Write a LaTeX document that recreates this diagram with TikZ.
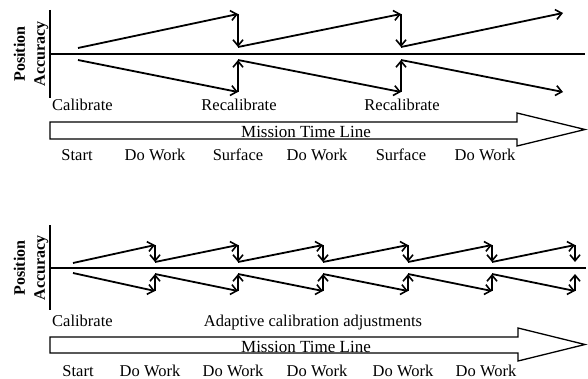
\documentclass[tikz,border=0pt]{standalone}
\usepackage{fontspec}
\setmainfont{Liberation Serif}
\usetikzlibrary{arrows.meta}
\tikzset{
  axisline/.style={line width=1.6pt},
  trend/.style={line width=1.8pt,-{Straight Barb[length=6pt,width=10pt,line width=1.6pt]}},
  corr/.style={line width=1.8pt,-{Straight Barb[length=6pt,width=10pt,line width=1.6pt]}},
  timeline/.style={line width=1.3pt,fill=white},
  lbl/.style={font=\fontsize{16.5}{19}\selectfont,inner sep=0pt,anchor=base},
  ylbl/.style={font=\bfseries\fontsize{16}{20}\selectfont,inner sep=0pt,rotate=90,align=center},
}
\begin{document}
\begin{tikzpicture}[x=1pt,y=-1pt]
\useasboundingbox (0,0) rectangle (588,379);
% ================= TOP DIAGRAM =================
\coordinate (tvt) at (50,10);
\coordinate (tvb) at (50,98);
\coordinate (thl) at (50,54);
\coordinate (thr) at (585,54);
\draw[axisline] (tvt) -- (tvb);
\draw[axisline] (thl) -- (thr);
\node[ylbl] (tyl) at (31,54) {Position\\Accuracy};
% upper
\coordinate (tu0) at (78,48);
\coordinate (tu1) at (238,14);
\coordinate (tu1b) at (238,47);
\coordinate (tu2) at (401,14);
\coordinate (tu2b) at (401,47);
\coordinate (tu3) at (563,13);
\draw[trend] (tu0) -- (tu1);
\draw[corr] (tu1) -- (tu1b);
\draw[trend] (tu1b) -- (tu2);
\draw[corr] (tu2) -- (tu2b);
\draw[trend] (tu2b) -- (tu3);
% lower
\coordinate (tl0) at (78,60);
\coordinate (tl1) at (238,92);
\coordinate (tl1b) at (238,60);
\coordinate (tl2) at (401,92);
\coordinate (tl2b) at (401,60);
\coordinate (tl3) at (563,92);
\draw[trend] (tl0) -- (tl1);
\draw[corr] (tl1) -- (tl1b);
\draw[trend] (tl1b) -- (tl2);
\draw[corr] (tl2) -- (tl2b);
\draw[trend] (tl2b) -- (tl3);
% labels
\node[lbl,anchor=base west] (tcal) at (52,111) {Calibrate};
\node[lbl] (trc1) at (239,111) {Recalibrate};
\node[lbl] (trc2) at (402,111) {Recalibrate};
% timeline
\draw[timeline] (50,122) -- (517,122) -- (517,113) -- (585,129.5) -- (517,146) -- (517,139) -- (50,139) -- cycle;
\node[lbl,font=\fontsize{17}{20}\selectfont] (tmtl) at (306,137.5) {Mission Time Line};
\node[lbl] (ts1) at (77,161) {Start};
\node[lbl] (ts2) at (155,161) {Do Work};
\node[lbl] (ts3) at (238,161) {Surface};
\node[lbl] (ts4) at (317,161) {Do Work};
\node[lbl] (ts5) at (401,161) {Surface};
\node[lbl] (ts6) at (485,161) {Do Work};
% ================= BOTTOM DIAGRAM =================
\coordinate (bvt) at (50,225);
\coordinate (bvb) at (50,310);
\coordinate (bhl) at (50,268);
\coordinate (bhr) at (586,268);
\draw[axisline] (bvt) -- (bvb);
\draw[axisline] (bhl) -- (bhr);
\node[ylbl] (byl) at (31,268) {Position\\Accuracy};
\coordinate (bq0) at (73,263);
\coordinate (bs0) at (73,273);
\foreach \x [count=\i] in {155,238,323,408,492,575} {
  \coordinate (bp\i) at (\x,245);
  \coordinate (bq\i) at (\x,262);
  \coordinate (br\i) at (\x,291);
  \coordinate (bs\i) at (\x,274);
}
\foreach \i [evaluate=\i as \j using int(\i-1)] in {1,...,6} {
  \draw[trend] (bq\j) -- (bp\i);
  \draw[corr] (bp\i) -- (bq\i);
  \draw[trend] (bs\j) -- (br\i);
  \draw[corr] (br\i) -- (bs\i);
}
\node[lbl,anchor=base west] (bcal) at (52,326) {Calibrate};
\node[lbl] (badj) at (313,326) {Adaptive calibration adjustments};
\draw[timeline] (50,337) -- (518,337) -- (518,328) -- (585,344.5) -- (518,361) -- (518,353) -- (50,353) -- cycle;
\node[lbl,font=\fontsize{17}{20}\selectfont] (bmtl) at (306,352) {Mission Time Line};
\node[lbl] (bs1) at (78,376) {Start};
\node[lbl] (bs2) at (150,376) {Do Work};
\node[lbl] (bs3) at (233,376) {Do Work};
\node[lbl] (bs4) at (317,376) {Do Work};
\node[lbl] (bs5) at (403,376) {Do Work};
\node[lbl] (bs6) at (486,376) {Do Work};
\end{tikzpicture}
\end{document}
